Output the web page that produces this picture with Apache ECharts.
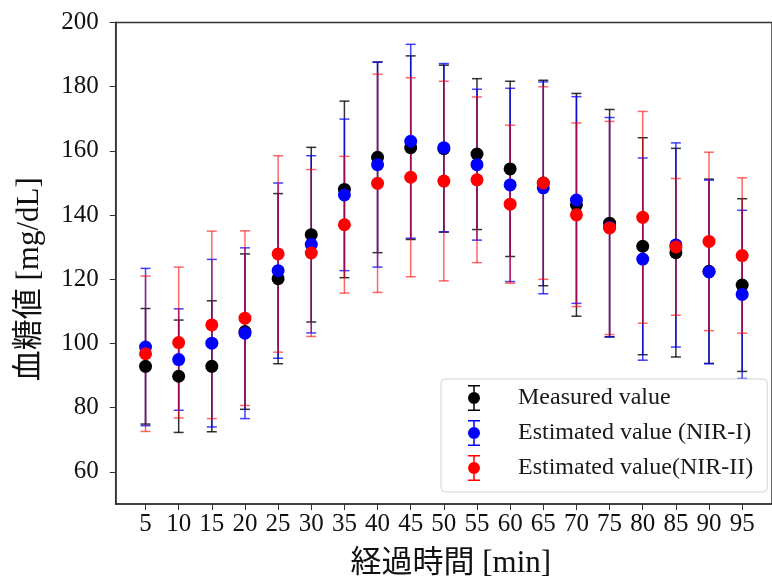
<!DOCTYPE html>
<html>
<head>
<meta charset="utf-8">
<script src="https://cdn.jsdelivr.net/npm/echarts@6/dist/echarts.min.js"></script>
<style>
  html, body { margin: 0; padding: 0; background: #fff; }
  #chart { width: 772px; height: 584px; }
</style>
</head>
<body>
<div id="chart"></div>
<script>
// 経過時間 [min]
const times = [5, 10, 15, 20, 25, 30, 35, 40, 45, 50, 55, 60, 65, 70, 75, 80, 85, 90, 95]
const yTicks = [60, 80, 100, 120, 140, 160, 180, 200]

// Measured value (mean, sd)
const measuredMean = [92.9, 89.8, 92.9, 103.7, 120.2, 133.9, 148.0, 158.0, 161.0, 160.7, 159.0, 154.4, 150.0, 143.2, 137.5, 130.3, 128.3, 122.5, 118.2]
const measuredSd = [18.0, 17.5, 20.4, 24.2, 26.5, 27.2, 27.5, 29.7, 28.6, 26.0, 23.5, 27.3, 32.0, 34.7, 35.4, 33.8, 32.5, 28.7, 26.9]

// Estimated value (NIR-I)
const nir1Mean = [98.9, 95.0, 100.1, 103.2, 122.7, 130.9, 146.3, 155.7, 163.0, 161.0, 155.7, 149.4, 148.5, 144.7, 136.2, 126.3, 130.7, 122.3, 115.3]
const nir1Sd = [24.5, 15.8, 26.1, 26.6, 27.3, 27.6, 23.6, 31.9, 30.2, 26.2, 23.5, 30.1, 33.0, 32.2, 34.2, 31.5, 31.8, 28.6, 26.2]

// Estimated value(NIR-II)
const nir2Mean = [96.8, 100.3, 105.8, 107.9, 127.9, 128.2, 137.0, 149.9, 151.8, 150.6, 151.0, 143.4, 150.0, 140.1, 136.0, 139.3, 130.1, 131.8, 127.4]
const nir2Sd = [24.2, 23.5, 29.2, 27.2, 30.6, 26.0, 21.3, 34.0, 31.0, 31.1, 25.8, 24.6, 30.0, 28.6, 33.2, 33.0, 21.3, 27.8, 24.2]

const serifFont = "'Liberation Serif', 'Noto Sans CJK JP', serif"

// legend icon: dot with error bar
const errIcon = 'path://M0,0h12v1.5h-12z M0,24.5h12v1.5h-12z M5.25,0h1.5v26h-1.5z M0,13a6,6 0 1,1 12,0a6,6 0 1,1 -12,0z'

const errorBars = (id, mean, sd, color, opacity) => ({
  name: id,
  type: 'custom',
  z: 1,
  silent: true,
  data: times.map((t, i) => [t, mean[i], sd[i]]),
  encode: { x: 0, y: 1 },
  renderItem: (params, api) => {
    const x = api.value(0)
    const m = api.value(1)
    const s = api.value(2)
    const top = api.coord([x, m + s])
    const bot = api.coord([x, m - s])
    const half = 5
    const style = { stroke: color, lineWidth: 1.5, opacity: opacity }
    return {
      type: 'group',
      children: [
        { type: 'line', shape: { x1: top[0], y1: top[1], x2: bot[0], y2: bot[1] }, style },
        { type: 'line', shape: { x1: top[0] - half, y1: top[1], x2: top[0] + half, y2: top[1] }, style },
        { type: 'line', shape: { x1: bot[0] - half, y1: bot[1], x2: bot[0] + half, y2: bot[1] }, style }
      ]
    }
  }
})

const dots = (name, mean, color) => ({
  name: name,
  type: 'scatter',
  z: 3,
  symbol: 'circle',
  symbolSize: 13,
  itemStyle: { color: color, opacity: 1 },
  data: times.map((t, i) => [t, mean[i]])
})

const myChart = echarts.init(document.getElementById('chart'))

const option = {
  animation: false,
  grid: {
    left: 115.7,
    right: -8.4,
    top: 22.5,
    bottom: 79,
    show: true,
    borderColor: '#333',
    borderWidth: 1.5
  },
  legend: {
    orient: 'vertical',
    left: 441,
    top: 379,
    padding: [6, 14, 11, 27],
    itemGap: 9,
    itemWidth: 12,
    itemHeight: 26,
    icon: errIcon,
    backgroundColor: '#fff',
    borderColor: '#d4d4d4',
    borderWidth: 1,
    borderRadius: 4,
    textStyle: {
      fontFamily: serifFont,
      fontSize: 24,
      color: '#1a1a1a',
      padding: [0, 0, 0, 33]
    },
    data: ['Measured value', 'Estimated value (NIR-I)', 'Estimated value(NIR-II)']
  },
  xAxis: {
    type: 'value',
    min: 0.5,
    max: 99.5,
    name: '経過時間 [min]',
    nameLocation: 'middle',
    nameGap: 44,
    nameTextStyle: {
      fontFamily: serifFont,
      fontSize: 31,
      color: '#111',
      padding: [0, 0, 0, 14]
    },
    axisLine: { show: true, lineStyle: { color: '#333', width: 1.5 } },
    axisTick: { show: true, length: 6, lineStyle: { color: '#333' }, customValues: times },
    axisLabel: {
      fontFamily: serifFont,
      fontSize: 25,
      color: '#111',
      margin: 8,
      customValues: times
    },
    splitLine: { show: false }
  },
  yAxis: {
    type: 'value',
    min: 50,
    max: 200,
    name: '血糖値 [mg/dL]',
    nameLocation: 'middle',
    nameGap: 70,
    nameTextStyle: {
      fontFamily: serifFont,
      fontSize: 31,
      color: '#111',
      padding: [0, 32, 0, 0]
    },
    axisLine: { show: true, lineStyle: { color: '#333', width: 1.5 } },
    axisTick: { show: true, length: 6, lineStyle: { color: '#333' }, customValues: yTicks },
    axisLabel: {
      fontFamily: serifFont,
      fontSize: 25,
      color: '#111',
      margin: 17,
      customValues: yTicks
    },
    splitLine: { show: false }
  },
  series: [
    errorBars('err-measured', measuredMean, measuredSd, '#000000', 0.8),
    errorBars('err-nir1', nir1Mean, nir1Sd, '#0000ff', 0.75),
    errorBars('err-nir2', nir2Mean, nir2Sd, '#ff0000', 0.6),
    dots('Measured value', measuredMean, '#000000'),
    dots('Estimated value (NIR-I)', nir1Mean, '#0000ff'),
    dots('Estimated value(NIR-II)', nir2Mean, '#ff0000')
  ]
}

option && myChart.setOption(option)
</script>
</body>
</html>
